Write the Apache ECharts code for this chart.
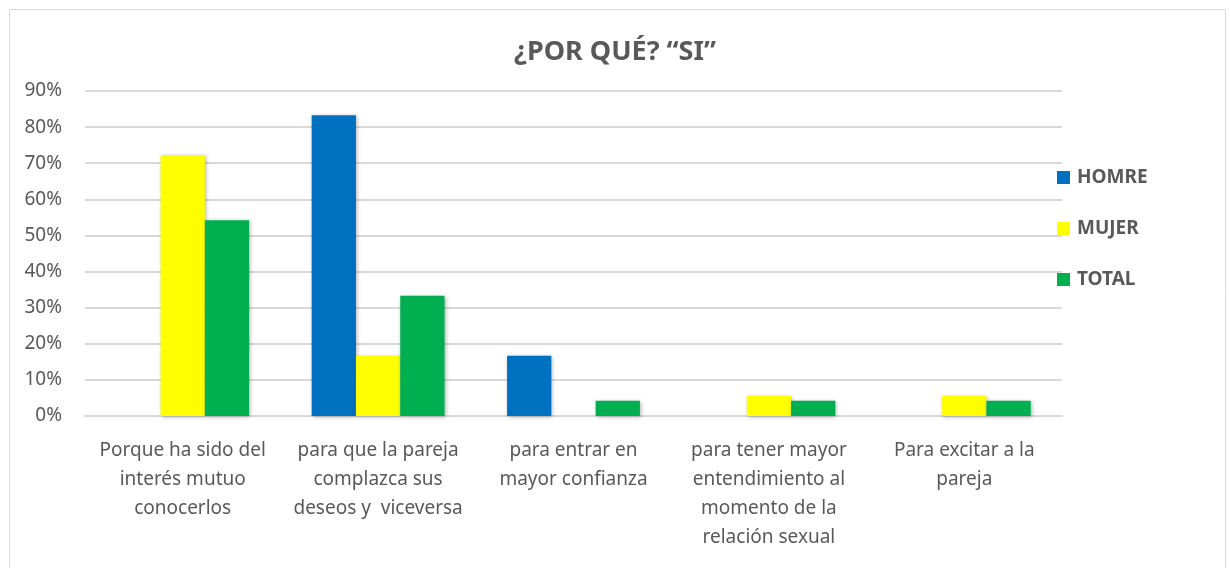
<!DOCTYPE html>
<html>
<head>
<meta charset="utf-8">
<script src="https://cdn.jsdelivr.net/npm/echarts@6/dist/echarts.min.js"></script>
<style>
  html, body { margin: 0; padding: 0; background: #fff; }
  #chart { width: 1230px; height: 568px; }
</style>
</head>
<body>
<div id="chart"></div>
<script>
// categorías y valores (%)
var categories = [
  'Porque ha sido del\ninterés mutuo\nconocerlos',
  'para que la pareja\ncomplazca sus\ndeseos y  viceversa',
  'para entrar en\nmayor confianza',
  'para tener mayor\nentendimiento al\nmomento de la\nrelación sexual',
  'Para excitar a la\npareja'
]
var hombre = [0, 83.3, 16.7, 0, 0]
var mujer = [72.2, 16.7, 0, 5.6, 5.6]
var total = [54.2, 33.3, 4.2, 4.2, 4.2]

var font = '"Noto Sans", "Liberation Sans", sans-serif'
var grey = '#595959'

var chart = echarts.init(document.getElementById('chart'))

function bar(name, data, color) {
  return {
    name: name,
    type: 'bar',
    data: data,
    barGap: '0%',
    barCategoryGap: '32%',
    itemStyle: {
      color: color,
      shadowColor: 'rgba(0,0,0,0.3)',
      shadowBlur: 4,
      shadowOffsetX: 1,
      shadowOffsetY: 1
    }
  }
}

chart.setOption({
  color: ['#0070C0', '#FFFF00', '#00B050'],
  title: {
    text: '¿POR QUÉ? “SI”',
    left: 'center',
    top: 34,
    textStyle: { fontFamily: font, fontSize: 27, fontWeight: 'bold', color: grey }
  },
  legend: {
    orient: 'vertical',
    left: 1052,
    top: 163,
    itemGap: 32,
    itemWidth: 13,
    itemHeight: 13,
    icon: 'rect',
    textStyle: { fontFamily: font, fontSize: 19, fontWeight: 'bold', color: grey, padding: [0, 0, 0, 2] },
    data: ['HOMRE', 'MUJER', 'TOTAL']
  },
  graphic: [{
    type: 'rect',
    shape: { x: 9.5, y: 9.5, width: 1216, height: 560 },
    style: { fill: 'none', stroke: '#d9d9d9', lineWidth: 1 },
    silent: true
  }],
  grid: { left: 85, right: 168, top: 91, bottom: 152 },
  xAxis: {
    type: 'category',
    data: categories,
    axisLine: { lineStyle: { color: '#d9d9d9', width: 2 } },
    axisTick: { show: false },
    axisLabel: {
      interval: 0,
      margin: 20,
      lineHeight: 29,
      fontFamily: font,
      fontSize: 19,
      color: grey
    }
  },
  yAxis: {
    type: 'value',
    min: 0,
    max: 90,
    interval: 10,
    axisLine: { show: false },
    axisTick: { show: false },
    axisLabel: {
      margin: 23,
      fontFamily: font,
      fontSize: 19,
      color: grey,
      formatter: '{value}%'
    },
    splitLine: { lineStyle: { color: '#d9d9d9', width: 2 } }
  },
  series: [
    bar('HOMRE', hombre, '#0070C0'),
    bar('MUJER', mujer, '#FFFF00'),
    bar('TOTAL', total, '#00B050')
  ]
})
</script>
</body>
</html>
